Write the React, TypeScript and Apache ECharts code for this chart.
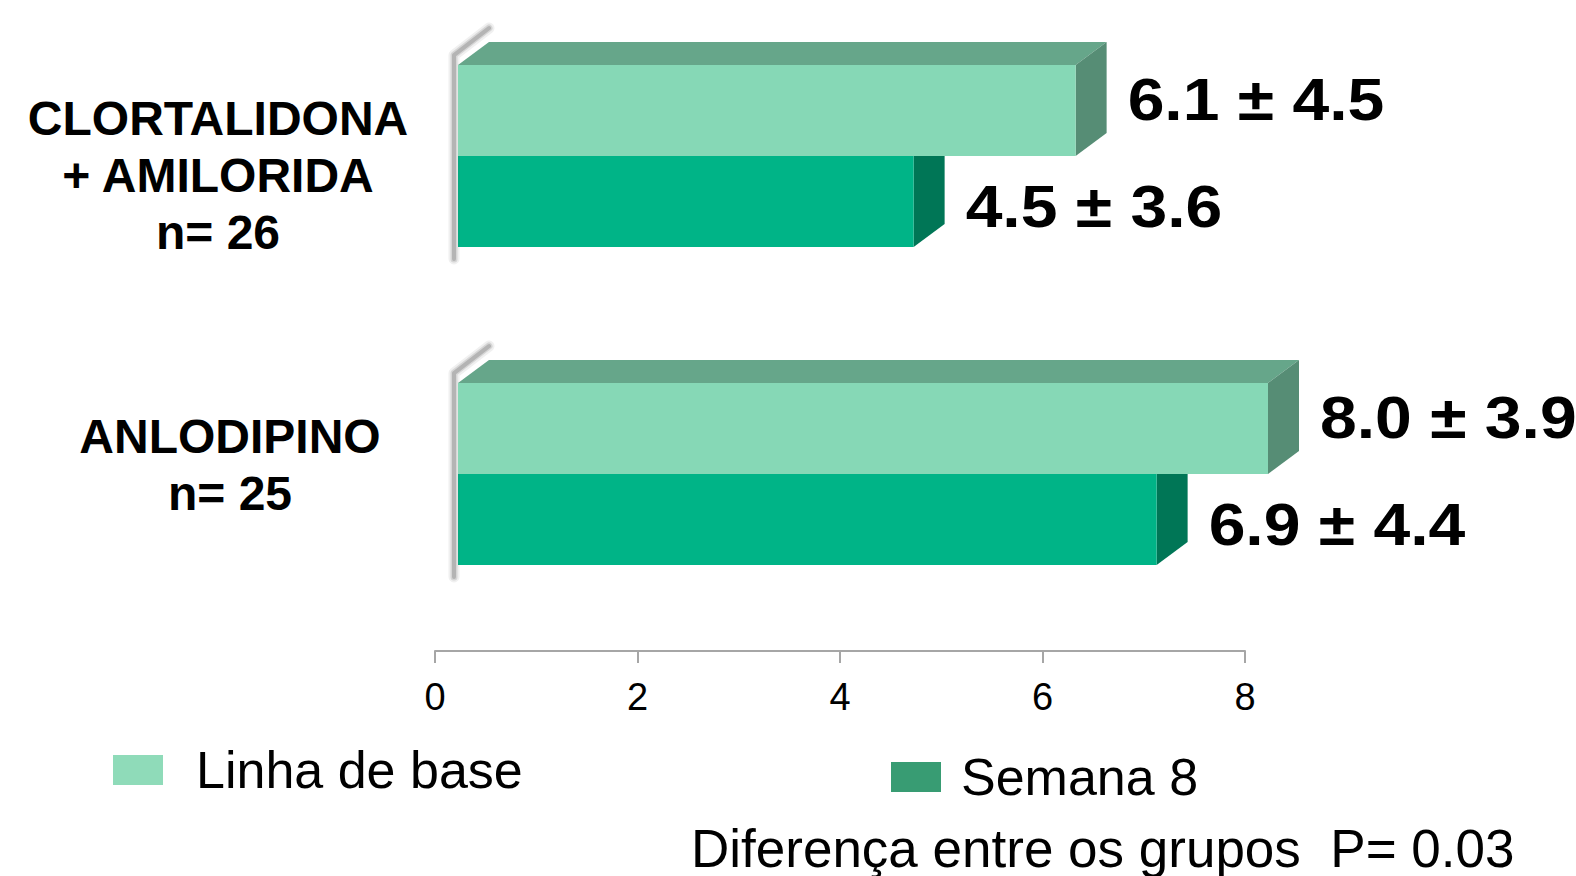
import React, { useEffect, useRef } from "react";
import * as echarts from "echarts";

// Treatment groups, top to bottom
const groups = ["CLORTALIDONA\n+ AMILORIDA\nn= 26", "ANLODIPINO\nn= 25"];
// Mean ± SD per group
const baselineMean = [6.1, 8.0];
const baselineSD = [4.5, 3.9];
const week8Mean = [4.5, 6.9];
const week8SD = [3.6, 4.4];
const seriesNames = ["Linha de base", "Semana 8"];
const xMin = 0;
const xMax = 8;
const xStep = 2;
const footnote = "Diferença entre os grupos  P= 0.03";

const FONT = "'Liberation Sans', Arial, Helvetica, sans-serif";

// 3D look: front face shifted from the axis plane, plus a depth vector
const FRONT_DX = 23;
const FRONT_DY = -18;
const DEPTH_X = 31;
const DEPTH_Y = -23;
const BAR_FRACTION = 0.286;
const LABEL_GAP = 21;

// Group label placement relative to the category centre
const GROUP_LABEL_MARGIN = 215;
const GROUP_LABEL_NUDGE: [number, number][] = [
  [-2, 1],
  [10, -27],
];

type Faces = { front: string; top: string; side: string };
const lightFaces: Faces = { front: "#86d8b6", top: "#66a68a", side: "#568d75" };
const darkFaces: Faces = { front: "#00b487", top: "#00936d", side: "#007656" };

// Layered strokes that fake a soft blurred edge shadow
const SHADOW_LAYERS = [
  { width: 11, alpha: 0.08 },
  { width: 7, alpha: 0.14 },
  { width: 4, alpha: 0.22 },
];

function makeRenderer(slot: "upper" | "lower", faces: Faces, sds: number[]) {
  return (params: any, api: any) => {
    const value = api.value(0) as number;
    const cat = api.value(1) as number;
    const end = api.coord([value, cat]);
    const start = api.coord([xMin, cat]);
    const band = api.size([0, 1])[1];
    const h = band * BAR_FRACTION;
    const cy = end[1] + FRONT_DY;
    const top = slot === "upper" ? cy - h : cy;
    const bottom = slot === "upper" ? cy : cy + h;
    const x0 = start[0] + FRONT_DX;
    const x1 = end[0] + FRONT_DX;
    const children: any[] = [];

    if (slot === "upper") {
      const pts = [
        [x0 + DEPTH_X, top + DEPTH_Y - 14],
        [x0 - 4, top - 10],
        [x0 - 4, top + 2 * h + 12],
      ];
      SHADOW_LAYERS.forEach((l) =>
        children.push({
          type: "polyline",
          shape: { points: pts },
          style: {
            stroke: `rgba(60,60,60,${l.alpha})`,
            lineWidth: l.width,
            fill: null,
            lineJoin: "round",
            lineCap: "round",
          },
        })
      );
    }

    children.push({
      type: "polygon",
      shape: {
        points: [
          [x0, top],
          [x1, top],
          [x1 + DEPTH_X, top + DEPTH_Y],
          [x0 + DEPTH_X, top + DEPTH_Y],
        ],
      },
      style: { fill: faces.top },
    });
    children.push({
      type: "polygon",
      shape: {
        points: [
          [x1, top],
          [x1 + DEPTH_X, top + DEPTH_Y],
          [x1 + DEPTH_X, bottom + DEPTH_Y],
          [x1, bottom],
        ],
      },
      style: { fill: faces.side },
    });
    children.push({
      type: "rect",
      shape: { x: x0, y: top, width: x1 - x0, height: bottom - top },
      style: { fill: faces.front },
    });

    const sd = sds[params.dataIndex];
    const labelY = slot === "upper" ? (top + bottom) / 2 - 11 : (top + bottom) / 2 + 5;
    children.push({
      type: "text",
      x: x1 + DEPTH_X + LABEL_GAP,
      y: labelY,
      scaleX: 1.12,
      style: {
        text: `${value.toFixed(1)} ± ${sd.toFixed(1)}`,
        fontSize: 59,
        fontWeight: "bold",
        fontFamily: FONT,
        fill: "#000",
        align: "left",
        verticalAlign: "middle",
      },
    });

    return { type: "group", children };
  };
}

function renderGroupLabel(params: any, api: any) {
  const cat = api.value(1) as number;
  const p = api.coord([xMin, cat]);
  const nudge = GROUP_LABEL_NUDGE[params.dataIndex] || [0, 0];
  return {
    type: "text",
    x: p[0] - GROUP_LABEL_MARGIN + nudge[0],
    y: p[1] + nudge[1],
    style: {
      text: groups[params.dataIndex],
      fontSize: 48,
      fontWeight: "bold",
      fontFamily: FONT,
      fill: "#000",
      align: "center",
      verticalAlign: "middle",
      lineHeight: 57,
    },
  };
}

export default function App() {
  const ref = useRef<HTMLDivElement>(null);

  useEffect(() => {
    document.body.style.margin = "0";
    if (!ref.current) return;
    const chart = echarts.init(ref.current, null, { renderer: "svg" });

    const option: any = {
      animation: false,
      backgroundColor: "#ffffff",
      grid: {
        left: 435,
        right: 331,
        top: 15,
        bottom: 225,
        containLabel: false,
        outerBoundsMode: "none",
      },
      xAxis: {
        type: "value",
        min: xMin,
        max: xMax,
        interval: xStep,
        position: "bottom",
        splitLine: { show: false },
        axisLine: { show: true, lineStyle: { color: "#a6a6a6", width: 2 } },
        axisTick: { show: true, length: 12, lineStyle: { color: "#a6a6a6", width: 2 } },
        axisLabel: { fontSize: 38, color: "#000", fontFamily: FONT, margin: 27 },
      },
      yAxis: {
        type: "category",
        inverse: true,
        data: groups,
        axisLine: { show: false },
        axisTick: { show: false },
        splitLine: { show: false },
        axisLabel: { show: false },
      },
      legend: [
        {
          left: 113,
          top: 740,
          padding: 0,
          icon: "rect",
          itemWidth: 50,
          itemHeight: 30,
          selectedMode: false,
          data: [{ name: seriesNames[0], itemStyle: { color: "#8fdbb9" } }],
          textStyle: { fontSize: 52, color: "#000", fontFamily: FONT, lineHeight: 60, padding: [0, 0, 0, 28] },
        },
        {
          left: 891,
          top: 747,
          padding: 0,
          icon: "rect",
          itemWidth: 50,
          itemHeight: 30,
          selectedMode: false,
          data: [{ name: seriesNames[1], itemStyle: { color: "#389c73" } }],
          textStyle: { fontSize: 52, color: "#000", fontFamily: FONT, lineHeight: 60, padding: [0, 0, 0, 15] },
        },
      ],
      graphic: [
        {
          type: "text",
          x: 691,
          y: 848,
          style: {
            text: footnote,
            fontSize: 53,
            fontFamily: FONT,
            fill: "#000",
            align: "left",
            verticalAlign: "middle",
          },
        },
      ],
      series: [
        {
          name: "groups",
          type: "custom",
          encode: { x: 0, y: 1 },
          data: groups.map((_, i) => [xMin, i]),
          renderItem: renderGroupLabel,
          silent: true,
        },
        {
          name: seriesNames[1],
          type: "custom",
          itemStyle: { color: "#389c73" },
          encode: { x: 0, y: 1 },
          data: week8Mean.map((v, i) => [v, i]),
          renderItem: makeRenderer("lower", darkFaces, week8SD),
        },
        {
          name: seriesNames[0],
          type: "custom",
          itemStyle: { color: "#8fdbb9" },
          encode: { x: 0, y: 1 },
          data: baselineMean.map((v, i) => [v, i]),
          renderItem: makeRenderer("upper", lightFaces, baselineSD),
        },
      ],
    };

    chart.setOption(option);
    return () => chart.dispose();
  }, []);

  return (
    <div
      ref={ref}
      style={{ position: "absolute", left: 0, top: 0, width: 1576, height: 876 }}
    />
  );
}
